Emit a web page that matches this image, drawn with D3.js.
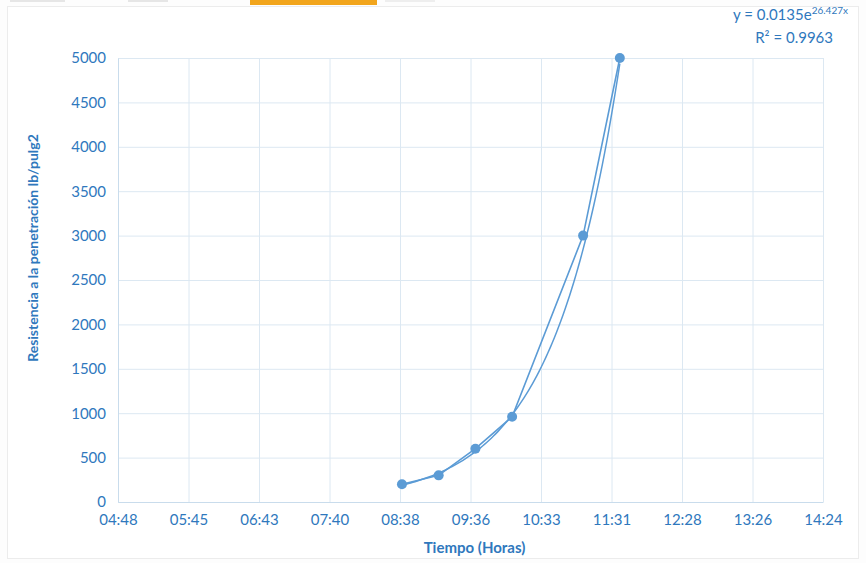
<!DOCTYPE html>
<html>
<head>
<meta charset="utf-8">
<script src="https://cdn.jsdelivr.net/npm/d3@7/dist/d3.min.js"></script>
<style>
  html, body { margin: 0; padding: 0; background: #ffffff; }
  svg { display: block; font-family: Lato, "Open Sans", sans-serif; }
</style>
</head>
<body>
<svg id="chart" width="866" height="563"></svg>
<script>
// Penetration resistance readings over the setting time
const times = ["08:40", "09:10", "09:40", "10:10", "11:08", "11:38"];
const resistance = [200, 300, 600, 960, 3000, 5000];

// Axis ticks (time as a fraction of a day, as in a spreadsheet)
const xTickValues = [0.20, 0.24, 0.28, 0.32, 0.36, 0.40, 0.44, 0.48, 0.52, 0.56, 0.60];
const xTickLabels = ["04:48", "05:45", "06:43", "07:40", "08:38", "09:36", "10:33", "11:31", "12:28", "13:26", "14:24"];
const yTickValues = [0, 500, 1000, 1500, 2000, 2500, 3000, 3500, 4000, 4500, 5000];

// Exponential trendline y = a * e^(b x)
const trendA = 0.0135;
const trendB = 26.427;
const trendR2 = 0.9963;

const toDayFraction = t => {
  const [h, m] = t.split(":").map(Number);
  return (h * 60 + m) / 1440;
};
const points = times.map((t, i) => ({ x: toDayFraction(t), y: resistance[i] }));

const svg = d3.select("#chart");
const W = 866, H = 563;
const plot = { left: 118, right: 823, top: 58, bottom: 502 };

const blue = "#5b9bd5";
const textBlue = "#2f78bd";
const grid = "#dce8f2";

// page background and faint outer frame
svg.append("rect").attr("width", W).attr("height", H).attr("fill", "#fdfdfd");
svg.append("rect").attr("x", 7.5).attr("y", 6.5).attr("width", 851).attr("height", 552)
  .attr("fill", "#ffffff").attr("stroke", "#ececec");
// tab strip along the top edge
svg.append("rect").attr("x", 250).attr("y", 0).attr("width", 127).attr("height", 5).attr("fill", "#f2a51c");
svg.append("rect").attr("x", 10).attr("y", 0).attr("width", 55).attr("height", 2).attr("fill", "#e6e6e6");
svg.append("rect").attr("x", 128).attr("y", 0).attr("width", 40).attr("height", 2).attr("fill", "#e6e6e6");
svg.append("rect").attr("x", 385).attr("y", 0).attr("width", 50).attr("height", 2).attr("fill", "#eeeeee");

const x = d3.scaleLinear().domain([0.20, 0.60]).range([plot.left, plot.right]);
const y = d3.scaleLinear().domain([0, 5000]).range([plot.bottom, plot.top]);

// gridlines
svg.append("g").selectAll("line.h").data(yTickValues).join("line")
  .attr("x1", plot.left).attr("x2", plot.right)
  .attr("y1", d => y(d) + 0.5).attr("y2", d => y(d) + 0.5)
  .attr("stroke", grid).attr("stroke-width", 1);
svg.append("g").selectAll("line.v").data(xTickValues).join("line")
  .attr("y1", plot.top).attr("y2", plot.bottom)
  .attr("x1", d => x(d) + 0.5).attr("x2", d => x(d) + 0.5)
  .attr("stroke", grid).attr("stroke-width", 1);

// y axis
const yAxis = d3.axisLeft(y).tickValues(yTickValues).tickSize(0).tickPadding(12).tickFormat(d3.format("d"));
const gy = svg.append("g").attr("transform", `translate(${plot.left},0)`).call(yAxis);
gy.select(".domain").attr("stroke", "#c9dcec");
gy.selectAll("text").attr("fill", textBlue).style("font-size", "15px").style("font-family", "Lato, sans-serif");

// x axis
const xAxis = d3.axisBottom(x).tickValues(xTickValues).tickSize(0).tickPadding(12)
  .tickFormat((d, i) => xTickLabels[i]);
const gx = svg.append("g").attr("transform", `translate(0,${plot.bottom})`).call(xAxis);
gx.select(".domain").attr("stroke", "#c9dcec");
gx.selectAll("text").attr("fill", textBlue).style("font-size", "15px").style("font-family", "Lato, sans-serif");

// axis titles
svg.append("text").attr("x", (plot.left + plot.right) / 2 + 4).attr("y", 553)
  .attr("text-anchor", "middle").attr("fill", textBlue)
  .style("font-size", "15px").style("font-weight", "bold")
  .text("Tiempo (Horas)");
svg.append("text")
  .attr("transform", "translate(38,248) rotate(-90)")
  .attr("text-anchor", "middle").attr("fill", textBlue)
  .style("font-size", "14px").style("font-weight", "bold")
  .text("Resistencia a la penetración lb/pulg2");

// exponential trendline across the measured range
const trendXs = d3.range(0, 101).map(i => points[0].x + (points[points.length - 1].x - points[0].x) * i / 100);
const trend = trendXs.map(t => ({ x: t, y: trendA * Math.exp(trendB * t) }));
svg.append("path").datum(trend)
  .attr("fill", "none").attr("stroke", blue).attr("stroke-width", 1.5)
  .attr("d", d3.line().x(d => x(d.x)).y(d => y(d.y)));

// data line
svg.append("path").datum(points)
  .attr("fill", "none").attr("stroke", blue).attr("stroke-width", 1.6)
  .attr("d", d3.line().x(d => x(d.x)).y(d => y(d.y)));

// markers
svg.append("g").selectAll("circle").data(points).join("circle")
  .attr("cx", d => x(d.x)).attr("cy", d => y(d.y)).attr("r", 5)
  .attr("fill", blue);

// trendline equation
const eq = svg.append("text").attr("x", 848).attr("y", 20).attr("text-anchor", "end")
  .attr("fill", textBlue).style("font-size", "15px");
eq.append("tspan").text(`y = ${trendA}e`);
eq.append("tspan").attr("dy", -6).style("font-size", "10px").text(`${trendB}x`);
svg.append("text").attr("x", 833).attr("y", 43).attr("text-anchor", "end")
  .attr("fill", textBlue).style("font-size", "15px")
  .text(`R² = ${trendR2}`);
</script>
</body>
</html>
